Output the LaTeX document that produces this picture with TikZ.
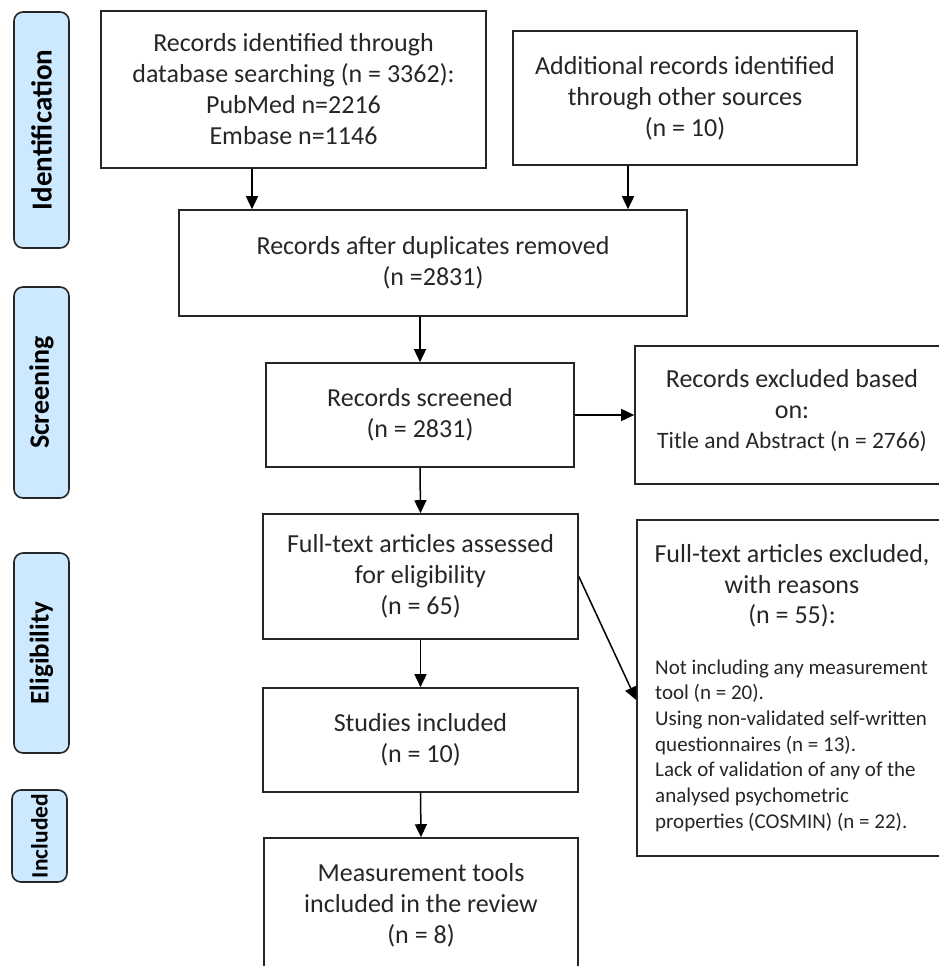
\documentclass[tikz,border=0pt]{standalone}
\usepackage{fontspec}
\setmainfont{Carlito}
\usetikzlibrary{arrows.meta,calc}
\definecolor{phasefill}{HTML}{CCE9FF}
\definecolor{ink}{HTML}{262626}
\tikzset{
  box/.style={draw=ink, line width=1.6pt, rectangle, inner sep=0pt, text=ink, align=center,
     font=\fontsize{26}{31}\selectfont},
  phase/.style={draw=ink, line width=1.6pt, fill=phasefill, rounded corners=9pt, rotate=90,
     inner sep=0pt, text=black, font=\fontsize{#1}{32}\selectfont\bfseries},
  arr/.style={draw=black, line width=1.5pt, -{Triangle[length=13pt,width=12pt]}},
  txt/.style={inner sep=0pt, text=ink, anchor=base, font=\fontsize{26}{31}\selectfont},
  midtxt/.style={inner sep=0pt, text=ink, anchor=base, font=\fontsize{23.5}{28}\selectfont},
  smalltxt/.style={inner sep=0pt, text=ink, anchor=base west, font=\fontsize{21}{25.7}\selectfont}
}
\begin{document}
\begin{tikzpicture}[x=1pt,y=-1pt]
\useasboundingbox (0,0) rectangle (939,966);
\clip (0,0) rectangle (939,966);
% phase labels
\node[phase=29, minimum width=236, minimum height=55] (pid) at (41.5,130) {Identification};
\node[phase=28, minimum width=211, minimum height=55] (pscr) at (41.5,392.5) {Screening};
\node[phase=27, minimum width=200, minimum height=55] (pel) at (41.5,653) {Eligibility};
\node[phase=23.5, minimum width=92, minimum height=55] (pinc) at (39.5,836) {Included};
% main boxes
\node[box, minimum width=385, minimum height=157] (b1) at (293.5,89.5)
  {Records identified through\\database searching (n = 3362):\\PubMed n=2216\\Embase n=1146};
\node[box, minimum width=344, minimum height=134] (b2) at (685,98)
  {Additional records identified\\through other sources\\(n = 10)};
\node[box, minimum width=508, minimum height=106] (b3) at (433,263)
  {Records after duplicates removed\\(n =2831)};
\node[box, minimum width=308, minimum height=104] (b4) at (420,415)
  {Records screened\\(n = 2831)};
\node[box, minimum width=314, minimum height=138] (ex1) at (792,415) {};
\node[txt] (ex1a) at (792,387) {Records excluded based};
\node[txt] (ex1b) at (792,418) {on:};
\node[midtxt] (ex1c) at (792,448) {Title and Abstract (n = 2766)};
\node[box, minimum width=315, minimum height=125] (b5) at (420.5,576.5)
  {Full-text articles assessed\\for eligibility\\(n = 65)};
\node[box, minimum width=312, minimum height=336] (ex2) at (793,688) {};
\node[txt] (ex2a) at (792,562) {Full-text articles excluded,};
\node[txt] (ex2b) at (792,593) {with reasons};
\node[txt] (ex2c) at (792,623) {(n = 55):};
\node[smalltxt] (l1) at (655,674) {Not including any measurement};
\node[smalltxt] (l2) at (655,699.7) {tool (n = 20).};
\node[smalltxt] (l3) at (655,725.4) {Using non-validated self-written};
\node[smalltxt] (l4) at (655,751.1) {questionnaires (n = 13).};
\node[smalltxt] (l5) at (655,776.8) {Lack of validation of any of the};
\node[smalltxt] (l6) at (655,802.5) {analysed psychometric};
\node[smalltxt] (l7) at (655,828.2) {properties (COSMIN) (n = 22).};
\node[box, minimum width=315, minimum height=104] (b6) at (420.5,740)
  {Studies included\\(n = 10)};
\node[box, minimum width=314, minimum height=134] (b7) at (421,905)
  {Measurement tools\\included in the review\\(n = 8)};
% connectors
\draw[arr] ([xshift=-41.5pt]b1.south) -- ([xshift=-41.5pt]b1.south |- b3.north);
\draw[arr] ([xshift=-57pt]b2.south) -- ([xshift=-57pt]b2.south |- b3.north);
\draw[arr] (b3.south -| b4.north) -- (b4.north);
\draw[arr] (b4.east) -- (ex1.west);
\draw[arr] (b4.south) -- (b5.north);
\draw[arr] (b5.east) -- ([yshift=-12pt]ex2.west);
\draw[arr] (b5.south) -- (b6.north);
\draw[arr] (b6.south) -- (b7.north);
\end{tikzpicture}
\end{document}
